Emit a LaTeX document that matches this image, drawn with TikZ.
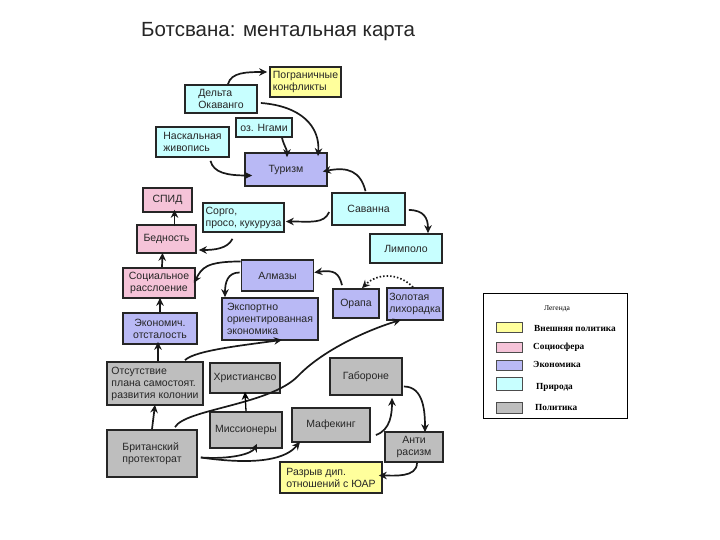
\documentclass[tikz,border=0pt]{standalone}
\usepackage{fontspec}
\setmainfont{Liberation Sans}
\newfontfamily\legfont{Liberation Serif}
\usetikzlibrary{arrows.meta,calc}
\definecolor{cyel}{HTML}{FFFF9C}
\definecolor{cpink}{HTML}{F5C3D8}
\definecolor{cblue}{HTML}{B9B9F5}
\definecolor{ccyan}{HTML}{C8FFFF}
\definecolor{cgray}{HTML}{BEBEBE}
\begin{document}
\begin{tikzpicture}[x=1pt,y=-1pt,
  box/.style={draw=black!85,line width=1.7pt,inner sep=0.5pt,text=black!85,
    font=\fontsize{10.5}{12}\selectfont},
  arr/.style={line width=1.7pt,draw=black!90,-{Stealth[length=8pt,width=7.5pt]}},
  sw/.style={draw=black!70,line width=0.6pt,minimum width=26pt,inner sep=0pt},
  leglab/.style={anchor=west,inner sep=0pt,font=\legfont\bfseries\fontsize{9.3}{10}\selectfont}]
\fill[white] (0,0) rectangle (720,540);
\useasboundingbox (0,0) rectangle (720,540);

\node[anchor=base west,inner sep=0pt,text=black!85,font=\fontsize{20.5}{24}\selectfont] (title) at (141,37) {Ботсвана: ментальная карта};

% boxes
\node[box,fill=cyel,minimum width=71pt,minimum height=30pt,align=left] (pogr) at (305.5,82) {Пограничные\\конфликты};
\node[box,fill=ccyan,minimum width=72pt,minimum height=28pt,align=left] (delta) at (221,99) {Дельта\\Окаванго};
\node[box,fill=ccyan,minimum width=56pt,minimum height=19pt] (ngami) at (264,127.5) {оз. Нгами};
\node[box,fill=ccyan,minimum width=73pt,minimum height=30pt,align=left] (nask) at (192.5,142) {Наскальная\\живопись};
\node[box,fill=cblue,minimum width=82pt,minimum height=33pt] (tur) at (286,169.5) {Туризм};
\node[box,fill=cpink,minimum width=49pt,minimum height=24pt] (spid) at (167.5,200) {СПИД};
\node[box,fill=ccyan,minimum width=81pt,minimum height=29pt,align=left] (sorgo) at (243.5,217.5) {Сорго,\\просо, кукуруза};
\node[box,fill=ccyan,minimum width=73pt,minimum height=32pt] (sav) at (368.5,209) {Саванна};
\node[box,fill=cpink,minimum width=59pt,minimum height=28pt] (bed) at (166.5,239) {Бедность};
\node[box,fill=ccyan,minimum width=72pt,minimum height=29pt] (lim) at (406,248.5) {Лимполо};
\node[box,fill=cblue,minimum width=72pt,minimum height=31pt] (alm) at (277.5,275.5) {Алмазы};
\node[box,fill=cpink,minimum width=72pt,minimum height=30pt,align=center] (soc) at (159,283) {Социальное\\расслоение};
\node[box,fill=cblue,minimum width=96pt,minimum height=42pt,align=left] (eksp) at (270,319) {Экспортно\\ориентированная\\экономика};
\node[box,fill=cblue,minimum width=46pt,minimum height=29pt] (orapa) at (356,303.5) {Орапа};
\node[box,fill=cblue,minimum width=56pt,minimum height=32pt,align=left] (zol) at (415,304) {Золотая\\лихорадка};
\node[box,fill=cblue,minimum width=74pt,minimum height=31pt,align=center] (ekon) at (160,328.5) {Экономич.\\отсталость};
\node[box,fill=cgray,minimum width=96pt,minimum height=43pt,align=left] (ots) at (155,383.5) {Отсутствие\\плана самостоят.\\развития колонии};
\node[box,fill=cgray,minimum width=70pt,minimum height=30pt] (hr) at (245,378) {Христиансво};
\node[box,fill=cgray,minimum width=72pt,minimum height=37pt] (gab) at (366,376.5) {Габороне};
\node[box,fill=cgray,minimum width=72pt,minimum height=36pt] (miss) at (246,430) {Миссионеры};
\node[box,fill=cgray,minimum width=78pt,minimum height=34pt] (maf) at (331,425) {Мафекинг};
\node[box,fill=cgray,minimum width=90pt,minimum height=47pt,align=left] (brit) at (152,453.5) {Британский\\протекторат};
\node[box,fill=cgray,minimum width=58pt,minimum height=30pt,align=center] (anti) at (414,447) {Анти\\расизм};
\node[box,fill=cyel,minimum width=102pt,minimum height=31pt,align=left] (razr) at (331,477.5) {Разрыв дип.\\отношений с ЮАР};

% connectors
\draw[arr] ($(delta.north)+(7,0)$) .. controls +(3,-12) and +(-20,0) .. ($(pogr.west)+(-2,-10)$);
\draw[arr] ($(delta.east)+(3,4)$) .. controls +(40,3) and +(2,-30) .. ($(tur.north)+(32,4)$);
\draw[arr] ($(ngami.south)+(18,0)$) .. controls +(2,8) and +(0,-8) .. ($(tur.north)+(1,5)$);
\draw[arr] ($(nask.south)+(18,3)$) .. controls +(3,12) and +(-25,0) .. ($(tur.west)+(8,6)$);
\draw[arr] ($(sav.north)+(-3,-1)$) .. controls +(-5,-20) and +(25,-5) .. ($(tur.east)+(-5,2)$);
\draw[arr] ($(sav.west)+(-2,3)$) .. controls +(-5,12) and +(25,0) .. ($(sorgo.east)+(1,4)$);
\draw[arr] ($(sav.east)+(3,1)$) .. controls +(15,0) and +(0,-15) .. ($(lim.north)+(22,0)$);
\draw[arr] ($(bed.north)+(8,2)$) -- ($(spid.south)+(7,-3)$);
\draw[arr] ($(sorgo.south)+(-11,6)$) .. controls +(-5,10) and +(15,0) .. ($(bed.east)+(2,11)$);
\draw[arr] ($(soc.north)+(3,0)$) -- ($(bed.south)+(-4,-1)$);
\draw[arr] (ekon.north) -- ($(soc.south)+(1,-1)$);
\draw[arr] ($(alm.west)+(0,-14)$) .. controls +(-35,0) and +(8,-15) .. ($(soc.east)+(-2,0)$);
\draw[arr] ($(alm.west)+(-1,-3)$) .. controls +(-12,0) and +(0,-15) .. ($(eksp.north)+(-45,0)$);
\draw[arr] ($(orapa.north)+(-14,-3)$) .. controls +(-3,-12) and +(20,-3) .. ($(alm.east)+(0,-3)$);
\draw[arr,dash pattern=on 1.5pt off 2pt] ($(zol.north)+(-2,0)$) .. controls +(-15,-15) and +(15,-15) .. ($(orapa.north)+(6,0)$);
\coordinate (bz) at (298,376);
\draw[arr] ($(brit.north)+(23,-2)$) .. controls +(10,-18) and +(-28,29) .. (bz) .. controls +(24,-25) and +(-36,11) .. ($(zol.south)+(-14,-1)$);
\draw[arr] ($(ots.north)+(30,-1)$) .. controls +(10,-10) and +(-35,5) .. ($(eksp.south)+(12,-1)$);
\draw[arr] ($(ots.north)+(3,0)$) -- ($(ekon.south)+(-2,-3)$);
\draw[arr] (brit.north) -- ($(ots.south)+(0,-1)$);
\draw[arr,line width=1.3pt,draw=black] (miss.north) -- ($(hr.south)+(0,-2)$);
\draw[arr] ($(brit.east)+(3,4)$) .. controls +(30,2) and +(-5,10) .. ($(miss.south)+(11,-5)$);
\draw[arr] ($(brit.east)+(3,4)$) .. controls +(70,10) and +(-10,12) .. ($(maf.south)+(-31,-1)$);
\draw[arr] ($(maf.east)+(5,10)$) .. controls +(15,-5) and +(0,15) .. ($(gab.south)+(26,2)$);
\draw[arr] ($(gab.east)+(1,10)$) .. controls +(20,0) and +(0,-20) .. ($(anti.north)+(11,1)$);
\draw[arr] ($(anti.south)+(3,0)$) .. controls +(0,15) and +(15,0) .. ($(razr.east)+(-4,-2)$);

% legend
\node[draw=black,line width=0.6pt,minimum width=144pt,minimum height=125pt,inner sep=0pt] (leg) at (555,355.5) {};
\node[inner sep=0pt,font=\legfont\fontsize{7.5}{8}\selectfont] (legt) at (557,309) {Легенда};
\node[sw,fill=cyel,minimum height=10pt] (s1) at (509,327) {};
\node[sw,fill=cpink,minimum height=10pt] (s2) at (509,347) {};
\node[sw,fill=cblue,minimum height=10pt] (s3) at (509,365) {};
\node[sw,fill=ccyan,minimum height=13pt] (s4) at (509,383.5) {};
\node[sw,fill=cgray,minimum height=11pt] (s5) at (509,407.5) {};
\node[leglab] (l1) at (534,328) {Внешняя политика};
\node[leglab] (l2) at (533,347) {Социосфера};
\node[leglab] (l3) at (533,364) {Экономика};
\node[leglab] (l4) at (536,387) {Природа};
\node[leglab] (l5) at (535,407) {Политика};
\end{tikzpicture}
\end{document}
